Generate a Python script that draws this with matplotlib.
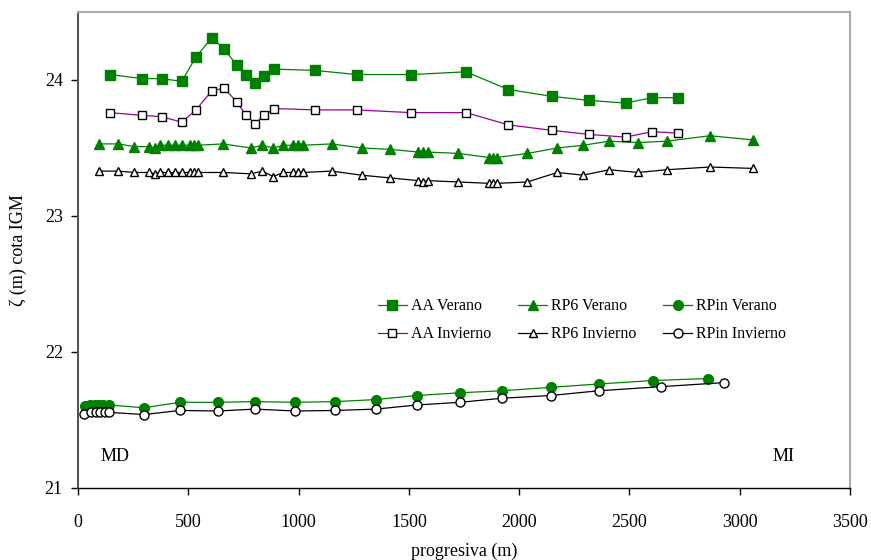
import matplotlib
matplotlib.use('Agg')
import matplotlib.pyplot as plt

plt.rcParams['font.family'] = ['Liberation Serif', 'DejaVu Serif']

# ---- data ----
aa_x = [145, 289, 379, 470, 535, 606, 662, 719, 762, 802, 844, 890, 1076, 1263,
        1510, 1759, 1951, 2147, 2316, 2483, 2602, 2718]
aa_ver = [24.04, 24.01, 24.01, 23.99, 24.17, 24.31, 24.23, 24.11, 24.04, 23.98,
          24.03, 24.08, 24.07, 24.04, 24.04, 24.06, 23.93, 23.88, 23.85, 23.83,
          23.87, 23.87]
aa_inv = [23.76, 23.74, 23.73, 23.69, 23.78, 23.92, 23.94, 23.84, 23.74, 23.68,
          23.74, 23.79, 23.78, 23.78, 23.76, 23.76, 23.67, 23.63, 23.60, 23.58,
          23.62, 23.61]

rp6_x = [95, 183, 255, 322, 349, 372, 407, 440, 473, 508, 526, 545, 656, 784,
         835, 885, 931, 976, 996, 1019, 1150, 1286, 1414, 1543, 1565, 1585,
         1724, 1865, 1883, 1901, 2037, 2173, 2290, 2408, 2540, 2668, 2865, 3058]
rp6_ver = [23.53, 23.53, 23.51, 23.51, 23.50, 23.52, 23.52, 23.52, 23.52, 23.52,
           23.52, 23.52, 23.53, 23.50, 23.52, 23.50, 23.52, 23.52, 23.52, 23.52,
           23.53, 23.50, 23.49, 23.47, 23.47, 23.47, 23.46, 23.43, 23.43, 23.43,
           23.46, 23.50, 23.52, 23.55, 23.54, 23.55, 23.59, 23.56]
rp6_inv = [23.33, 23.33, 23.32, 23.32, 23.31, 23.32, 23.32, 23.32, 23.32, 23.32,
           23.32, 23.32, 23.32, 23.31, 23.33, 23.29, 23.32, 23.32, 23.32, 23.32,
           23.33, 23.30, 23.28, 23.26, 23.25, 23.26, 23.25, 23.24, 23.24, 23.24,
           23.25, 23.32, 23.30, 23.34, 23.32, 23.34, 23.36, 23.35]

rpin_ver_x = [30, 55, 75, 95, 115, 140, 299, 462, 633, 802, 984, 1165, 1350,
              1535, 1732, 1923, 2143, 2362, 2605, 2857]
rpin_ver = [21.60, 21.61, 21.61, 21.61, 21.61, 21.61, 21.59, 21.63, 21.63,
            21.635, 21.63, 21.635, 21.65, 21.68, 21.70, 21.715, 21.74, 21.765,
            21.79, 21.805]
rpin_inv_x = [25, 60, 80, 100, 120, 140, 299, 462, 633, 802, 984, 1165, 1350,
              1535, 1732, 1923, 2143, 2362, 2643, 2930]
rpin_inv = [21.545, 21.556, 21.556, 21.556, 21.556, 21.556, 21.54, 21.57,
            21.566, 21.58, 21.566, 21.57, 21.58, 21.61, 21.63, 21.66, 21.68,
            21.715, 21.745, 21.775]

green = '#008000'
purple = '#990099'

fig = plt.figure(figsize=(8.71, 5.6), dpi=100)
ax = fig.add_axes([0.0896, 0.1286, 0.8863, 0.85])

h_aav, = ax.plot(aa_x, aa_ver, color=green, lw=0.9, marker='s', ms=7.5,
                 mfc=green, mec=green, label='AA Verano')
h_rp6v, = ax.plot(rp6_x, rp6_ver, color=green, lw=0.9, marker='^', ms=7.5,
                  mfc=green, mec=green, label='RP6 Verano')
h_rpiv, = ax.plot(rpin_ver_x, rpin_ver, color=green, lw=0.9, marker='o', ms=7,
                  mfc=green, mec=green, label='RPin Verano')
h_aai, = ax.plot(aa_x, aa_inv, color=purple, lw=0.9, marker='s', ms=5.5,
                 mfc='white', mec='black', mew=1.0, label='AA Invierno')
h_rp6i, = ax.plot(rp6_x, rp6_inv, color='black', lw=0.9, marker='^', ms=6,
                  mfc='white', mec='black', mew=1.0, label='RP6 Invierno')
h_rpii, = ax.plot(rpin_inv_x, rpin_inv, color='black', lw=0.9, marker='o', ms=6.5,
                  mfc='white', mec='black', mew=1.0, label='RPin Invierno')

ax.set_xlim(0, 3500)
ax.set_ylim(21, 24.5)
ax.set_xticks(range(0, 3501, 500))
ax.set_yticks([21, 22, 23, 24])
ax.tick_params(direction='out', length=5, width=1, labelsize=13, pad=6)
ax.tick_params(axis='x', pad=14)

ax.spines['bottom'].set_color('black')
ax.spines['bottom'].set_linewidth(1)
ax.spines['left'].set_color('#555555')
ax.spines['left'].set_linewidth(1.5)
for s in ['top', 'right']:
    ax.spines[s].set_color('#aaaaaa')
    ax.spines[s].set_linewidth(1.5)

ax.set_xlabel('progresiva (m)', fontsize=13, labelpad=8)
ax.set_ylabel('ζ (m) cota IGM', fontsize=13, labelpad=13)

ax.text(100, 21.2, 'MD', fontsize=13)
ax.text(3150, 21.2, 'MI', fontsize=13)

# column-major order so rows read Verano / Invierno
handles = [h_aav, h_aai, h_rp6v, h_rp6i, h_rpiv, h_rpii]
ax.legend(handles=handles, ncol=3, loc='center', bbox_to_anchor=(0.653, 0.352),
          frameon=False, fontsize=11.5, handlelength=1.8, handletextpad=0.25,
          columnspacing=1.7, labelspacing=0.75)

fig.savefig('out.png', dpi=100)
